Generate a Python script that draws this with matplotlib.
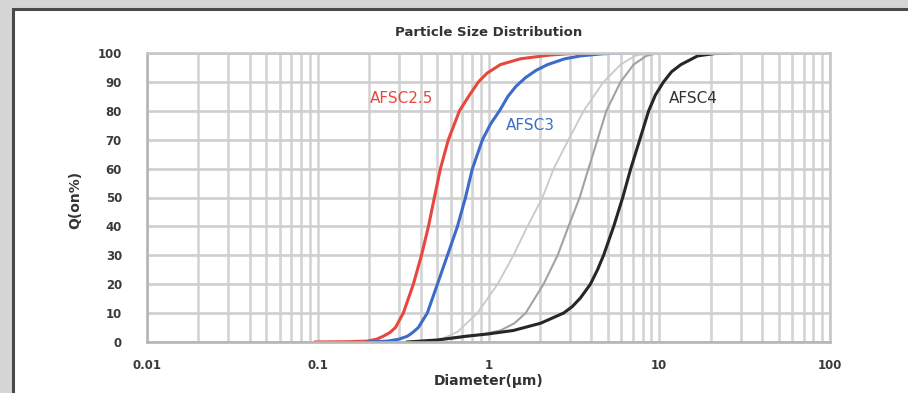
import numpy as np
import matplotlib
matplotlib.use('Agg')
from matplotlib import pyplot as plt
from matplotlib.patches import Rectangle
from matplotlib.ticker import FixedLocator, NullFormatter

# cumulative particle size curves (diameter in um, Q in %)
afsc25_d = [0.097, 0.15, 0.195, 0.222, 0.242, 0.265, 0.285, 0.317, 0.363, 0.405, 0.445, 0.482,
            0.523, 0.582, 0.676, 0.765, 0.873, 0.98, 1.175, 1.54, 2.3, 3.0, 4.0]
afsc25_q = [0, 0.1, 0.3, 1, 2, 3.3, 5, 10, 20, 30, 40, 50,
            60, 70, 80, 85, 90, 93, 96, 98, 99.3, 99.8, 100]

afsc3_d = [0.195, 0.256, 0.30, 0.335, 0.36, 0.388, 0.438, 0.502, 0.575, 0.658, 0.733, 0.805,
           0.922, 1.03, 1.16, 1.30, 1.45, 1.65, 1.9, 2.22, 2.8, 3.47, 4.6, 5.9]
afsc3_q = [0, 0.3, 1, 2, 3.3, 5, 10, 20, 30, 40, 50, 60,
           70, 75.5, 80, 85, 88.5, 91.5, 94, 96, 98, 99, 99.7, 100]

gray1_d = [0.40, 0.523, 0.658, 0.861, 1.13, 1.40, 1.69, 2.07, 2.41, 2.94, 3.61,
           4.72, 5.94, 7.2, 8.6]
gray1_q = [0, 0.8, 3.5, 10, 20, 30, 40, 50, 60, 70, 80, 90, 96, 99, 100]

gray2_d = [0.40, 0.685, 0.95, 1.175, 1.42, 1.65, 2.10, 2.54, 2.94, 3.42, 3.85, 4.35, 4.90,
           5.94, 7.08, 8.4, 9.8]
gray2_q = [0, 1.5, 2.8, 4, 6.5, 10, 20, 30, 40, 50, 60, 70, 80, 90, 96, 99, 100]

afsc4_d = [0.335, 0.50, 0.74, 1.0, 1.40, 2.02, 2.75, 3.1, 3.45, 3.95, 4.35, 4.72, 5.41, 6.11,
           6.81, 7.69, 8.67, 9.5, 10.6, 11.8, 13.4, 16.8, 21.0, 26.2]
afsc4_q = [0, 0.7, 2, 2.8, 4, 6.5, 10, 12.3, 15.2, 20, 25, 30, 40, 50,
           60, 70, 80, 85.5, 90, 93.5, 96, 99, 99.8, 100]

x_ticks = [0.01, 0.1, 1, 10, 100]
x_tick_labels = ['0.01', '0.1', '1', '10', '100']
y_ticks = list(range(0, 101, 10))

fig = plt.figure(figsize=(9.08, 3.93), dpi=100)
fig.patch.set_facecolor('#d6d6d6')
fig.patches.append(Rectangle((13 / 908, -0.05), 1.2, (393 - 9) / 393 + 0.05,
                             transform=fig.transFigure, facecolor='white',
                             edgecolor='#4a4a4a', lw=2.2, zorder=-5))

ax = fig.add_axes([147 / 908, (393 - 342) / 393, (830 - 147) / 908, (342 - 53) / 393])
ax.set_zorder(3)
ax.set_facecolor('white')
ax.set_xscale('log')
ax.set_xlim(0.01, 100)
ax.set_ylim(0, 100)

ax.xaxis.set_major_locator(FixedLocator(x_ticks))
ax.set_xticklabels(x_tick_labels)
minors = [m * 10.0 ** e for e in range(-2, 2) for m in range(2, 10)]
ax.xaxis.set_minor_locator(FixedLocator(minors))
ax.xaxis.set_minor_formatter(NullFormatter())
ax.set_yticks(y_ticks)

ax.grid(True, which='both', axis='x', color='#d4d4d4', lw=1.9)
ax.grid(True, which='major', axis='y', color='#cfcfcf', lw=1.9)
ax.set_axisbelow(True)
for s in ax.spines.values():
    s.set_color('#c8c8c8')
    s.set_linewidth(1.9)
ax.spines['left'].set_color('#b5b5b5')
ax.spines['bottom'].set_color('#b5b5b5')

ax.tick_params(axis='both', which='both', length=0)
ax.tick_params(axis='x', pad=12, labelsize=8.5, labelcolor='#3a3a3a')
ax.tick_params(axis='y', pad=18, labelsize=8.5, labelcolor='#3a3a3a')
for lab in ax.get_xticklabels() + ax.get_yticklabels():
    lab.set_fontweight('bold')

ax.plot(gray1_d, gray1_q, color='#c9c9c9', lw=1.3, solid_joinstyle='round')
ax.plot(gray2_d, gray2_q, color='#a2a2a2', lw=1.5, solid_joinstyle='round')
ax.plot(afsc25_d, afsc25_q, color='#e8473d', lw=2.2, solid_joinstyle='round')
ax.plot(afsc3_d, afsc3_q, color='#3d6cc8', lw=2.2, solid_joinstyle='round')
ax.plot(afsc4_d, afsc4_q, color='#262626', lw=2.2, solid_joinstyle='round')

ax.text(0.203, 84.4, 'AFSC2.5', color='#e8473d', fontsize=11, va='center', ha='left')
ax.text(1.26, 75, 'AFSC3', color='#3d6cc8', fontsize=11, va='center', ha='left')
ax.text(11.4, 84.4, 'AFSC4', color='#333333', fontsize=11, va='center', ha='left')

fig.text(489 / 908, 1 - 32 / 393, 'Particle Size Distribution', ha='center', va='center',
         fontsize=9.5, fontweight='bold', color='#333333')
fig.text(489 / 908, 1 - 381 / 393, 'Diameter(\u03bcm)', ha='center', va='center',
         fontsize=10, fontweight='bold', color='#333333')
fig.text(75 / 908, 1 - 200 / 393, 'Q(on%)', ha='center', va='center', rotation=90,
         fontsize=10, fontweight='bold', color='#333333')

fig.savefig('out.png', dpi=100, facecolor=fig.get_facecolor())
